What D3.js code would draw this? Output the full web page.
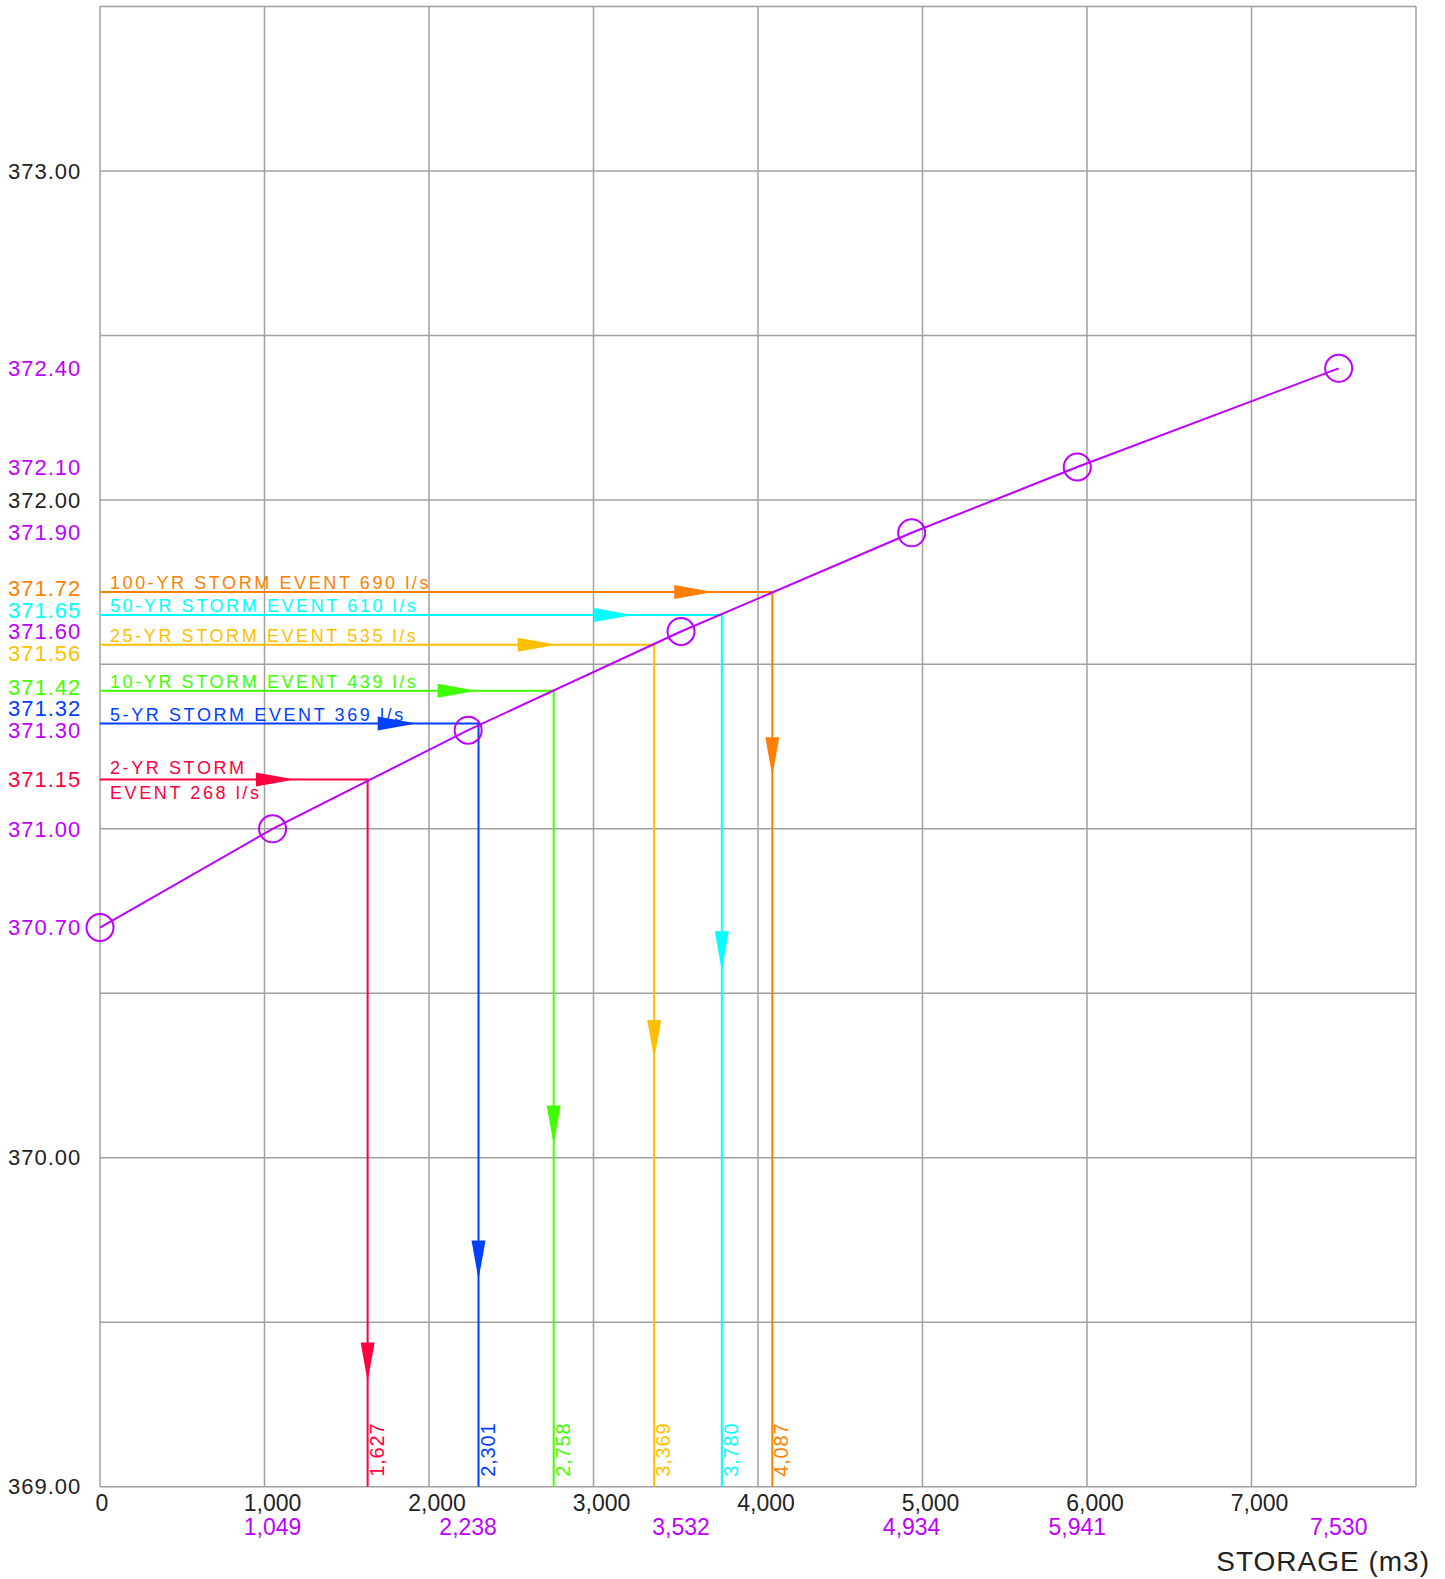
<!DOCTYPE html>
<html>
<head>
<meta charset="utf-8">
<script src="https://cdn.jsdelivr.net/npm/d3@7"></script>
<style>
  body { margin: 0; background: #fff; }
  svg { display: block; font-family: "Liberation Sans", Arial, sans-serif; }
</style>
</head>
<body>
<div id="chart-area"></div>
<script>
// stage-storage curve
const curveStorage = [0, 1049, 2238, 3532, 4934, 5941, 7530];
const curveElev = [370.7, 371.0, 371.3, 371.6, 371.9, 372.1, 372.4];

// storm events
const stormNames = ["2-YR", "5-YR", "10-YR", "25-YR", "50-YR", "100-YR"];
const stormFlows = [268, 369, 439, 535, 610, 690];
const stormElev = [371.15, 371.32, 371.42, 371.56, 371.65, 371.72];
const stormStorage = [1627, 2301, 2758, 3369, 3780, 4087];
const stormColors = ["#ff0040", "#0040ff", "#40ff00", "#ffbf00", "#00ffff", "#ff7f00"];
// where the arrow heads sit (storage for the level line, elevation for the drop line)
const hArrowAt = [1185, 1925, 2289, 2776, 3241, 3728];
const vArrowAt = [369.32, 369.63, 370.04, 370.3, 370.57, 371.16];

// grid + axis labels
const xGrid = d3.range(0, 8001, 1000);
const yGrid = d3.range(369, 373.51, 0.5);
const xTickLabels = [0, 1000, 2000, 3000, 4000, 5000, 6000, 7000];
const yTickLabels = [369, 370, 372, 373];

const purple = "#bf00ff";
const gridColor = "#a0a0a0";
const inkColor = "#222";

const W = 1445, H = 1579;
const svg = d3.select("#chart-area").append("svg")
    .attr("width", W)
    .attr("height", H);

//Scales
const xScale = d3.scaleLinear().domain([0, 8000]).range([100, 1416]);
const yScale = d3.scaleLinear().domain([369, 373.5]).range([1486.7, 6.5]);

//Grid
svg.append("g")
    .selectAll("line")
    .data(xGrid)
    .join("line")
    .attr("x1", d => xScale(d)).attr("x2", d => xScale(d))
    .attr("y1", yScale(369)).attr("y2", yScale(373.5))
    .attr("stroke", gridColor)
    .attr("stroke-width", 1.5);

svg.append("g")
    .selectAll("line")
    .data(yGrid)
    .join("line")
    .attr("x1", xScale(0)).attr("x2", xScale(8000))
    .attr("y1", d => yScale(d)).attr("y2", d => yScale(d))
    .attr("stroke", gridColor)
    .attr("stroke-width", 1.5);

//Storm lines
const storms = stormNames.map((name, i) => ({
    name,
    flow: stormFlows[i],
    elev: stormElev[i],
    storage: stormStorage[i],
    color: stormColors[i],
    hArrow: hArrowAt[i],
    vArrow: vArrowAt[i],
}));

const stormG = svg.append("g");
storms.forEach((s) => {
    const g = stormG.append("g");
    const yl = yScale(s.elev);
    const xl = xScale(s.storage);
    g.append("path")
        .attr("d", `M${xScale(0)},${yl}H${xl}V${yScale(369)}`)
        .attr("fill", "none")
        .attr("stroke", s.color)
        .attr("stroke-width", 2);

    // arrow on level line
    const ht = xScale(s.hArrow);
    g.append("path")
        .attr("d", `M${ht},${yl}L${ht - 39},${yl - 7}L${ht - 39},${yl + 7}Z`)
        .attr("fill", s.color);

    // arrow on drop line
    const vt = yScale(s.vArrow);
    g.append("path")
        .attr("d", `M${xl},${vt}L${xl - 7},${vt - 39}L${xl + 7},${vt - 39}Z`)
        .attr("fill", s.color);

    // storage value, reading upwards
    g.append("text")
        .attr("transform", `translate(${xl + 16}, ${yScale(369) - 10}) rotate(-90)`)
        .attr("font-size", "20px")
        .attr("fill", s.color)
        .attr("letter-spacing", "0.8px")
        .text(d3.format(",")(s.storage));

    // event label
    const label = g.append("text")
        .attr("x", 110)
        .attr("font-size", "18px")
        .attr("letter-spacing", "2.6px")
        .attr("fill", s.color);
    if (s.name === "2-YR") {
        label.append("tspan").attr("x", 110).attr("y", yl - 5)
            .text(`${s.name} STORM`);
        label.append("tspan").attr("x", 110).attr("y", yl + 20)
            .text(`EVENT ${s.flow} l/s`);
    } else {
        label.attr("y", yl - 3).text(`${s.name} STORM EVENT ${s.flow} l/s`);
    }
});

//Storage curve
const curve = curveStorage.map((s, i) => ({ s, e: curveElev[i] }));
svg.append("path")
    .datum(curve)
    .attr("d", d3.line().x(d => xScale(d.s)).y(d => yScale(d.e)))
    .attr("fill", "none")
    .attr("stroke", purple)
    .attr("stroke-width", 2);

svg.append("g")
    .selectAll("circle")
    .data(curve)
    .join("circle")
    .attr("cx", d => xScale(d.s))
    .attr("cy", d => yScale(d.e))
    .attr("r", 13.5)
    .attr("fill", "none")
    .attr("stroke", purple)
    .attr("stroke-width", 2);

//Y labels: curve + grid labels stay put, storm labels get nudged apart
let yLabels = [];
yTickLabels.forEach(v => yLabels.push({ v, color: inkColor, fixed: true }));
curveElev.forEach(v => yLabels.push({ v, color: purple, fixed: true }));
storms.forEach(s => yLabels.push({ v: s.elev, color: s.color, fixed: false }));
yLabels.forEach(d => (d.y = yScale(d.v)));
yLabels.sort((a, b) => a.y - b.y);

const minGap = 21.5;
for (let k = 0; k < 80; k++) {
    for (let i = 0; i < yLabels.length - 1; i++) {
        const a = yLabels[i], b = yLabels[i + 1];
        const gap = b.y - a.y;
        if (gap >= minGap) continue;
        const need = minGap - gap;
        if (a.fixed && b.fixed) continue;
        if (a.fixed) b.y += need;
        else if (b.fixed) a.y -= need;
        else { a.y -= need / 2; b.y += need / 2; }
    }
}

svg.append("g")
    .selectAll("text")
    .data(yLabels)
    .join("text")
    .attr("x", 8)
    .attr("y", d => d.y)
    .attr("dy", "0.35em")
    .attr("font-size", "22px")
    .attr("letter-spacing", "1px")
    .attr("fill", d => d.color)
    .text(d => d3.format(".2f")(d.v));

//X labels
svg.append("g")
    .selectAll("text")
    .data(xTickLabels)
    .join("text")
    .attr("x", d => xScale(d) + (d === 0 ? 2 : 8))
    .attr("y", 1511)
    .attr("text-anchor", "middle")
    .attr("font-size", "23px")
    .attr("fill", inkColor)
    .text(d => d3.format(",")(d));

svg.append("g")
    .selectAll("text")
    .data(curveStorage.filter(d => d > 0))
    .join("text")
    .attr("x", d => xScale(d))
    .attr("y", 1535)
    .attr("text-anchor", "middle")
    .attr("font-size", "23px")
    .attr("fill", purple)
    .text(d => d3.format(",")(d));

svg.append("text")
    .attr("x", 1430)
    .attr("y", 1571)
    .attr("text-anchor", "end")
    .attr("font-size", "28px")
    .attr("letter-spacing", "1px")
    .attr("fill", inkColor)
    .text("STORAGE (m3)");
</script>
</body>
</html>
